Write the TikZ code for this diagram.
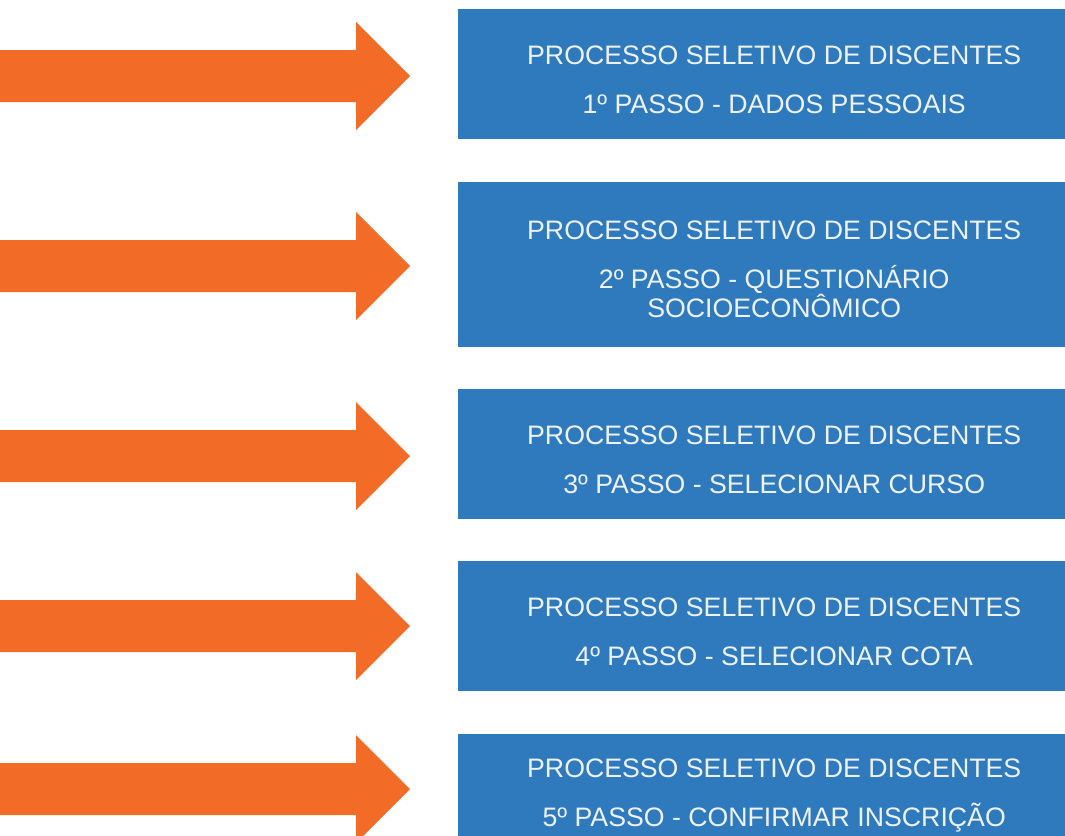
\documentclass[tikz,border=0pt]{standalone}
\usepackage{fontspec}
\setmainfont{Liberation Sans}
\usetikzlibrary{positioning}
\definecolor{laranja}{RGB}{242,107,39}
\definecolor{azul}{RGB}{46,122,189}
\definecolor{quasebranco}{RGB}{238,242,245}
\tikzstyle{passo} = [rectangle, fill=azul, text=quasebranco, align=center, inner sep=0pt, minimum width=632pt, minimum height=130pt, font=\fontsize{26.7pt}{29pt}\selectfont]
\tikzstyle{seta} = [fill=laranja]
\newcommand{\titulo}{\rule{0pt}{30pt}PROCESSO SELETIVO DE DISCENTES\\[20pt]}

\begin{document}
\begin{tikzpicture}[x=1pt, y=-1pt, node distance=42pt]
\path [use as bounding box, clip] (0,0) rectangle (1065,835);
\node [passo, anchor=north west] (passo1) at (458,9) {\titulo 1º PASSO - DADOS PESSOAIS};
\node [passo, below=of passo1, minimum height=165pt] (passo2) {\titulo 2º PASSO - QUESTIONÁRIO\\SOCIOECONÔMICO};
\node [passo, below=of passo2] (passo3) {\titulo 3º PASSO - SELECIONAR CURSO};
\node [passo, below=of passo3] (passo4) {\titulo 4º PASSO - SELECIONAR COTA};
\node [passo, below=of passo4, minimum height=112pt] (passo5) {\titulo 5º PASSO - CONFIRMAR INSCRIÇÃO};
% setas
\foreach \y in {76,266,456,626,789}
  \fill [seta] (-10,\y-26) -- (356,\y-26) -- (356,\y-54) -- (410,\y) -- (356,\y+54) -- (356,\y+26) -- (-10,\y+26) -- cycle;
\end{tikzpicture}
\end{document}
